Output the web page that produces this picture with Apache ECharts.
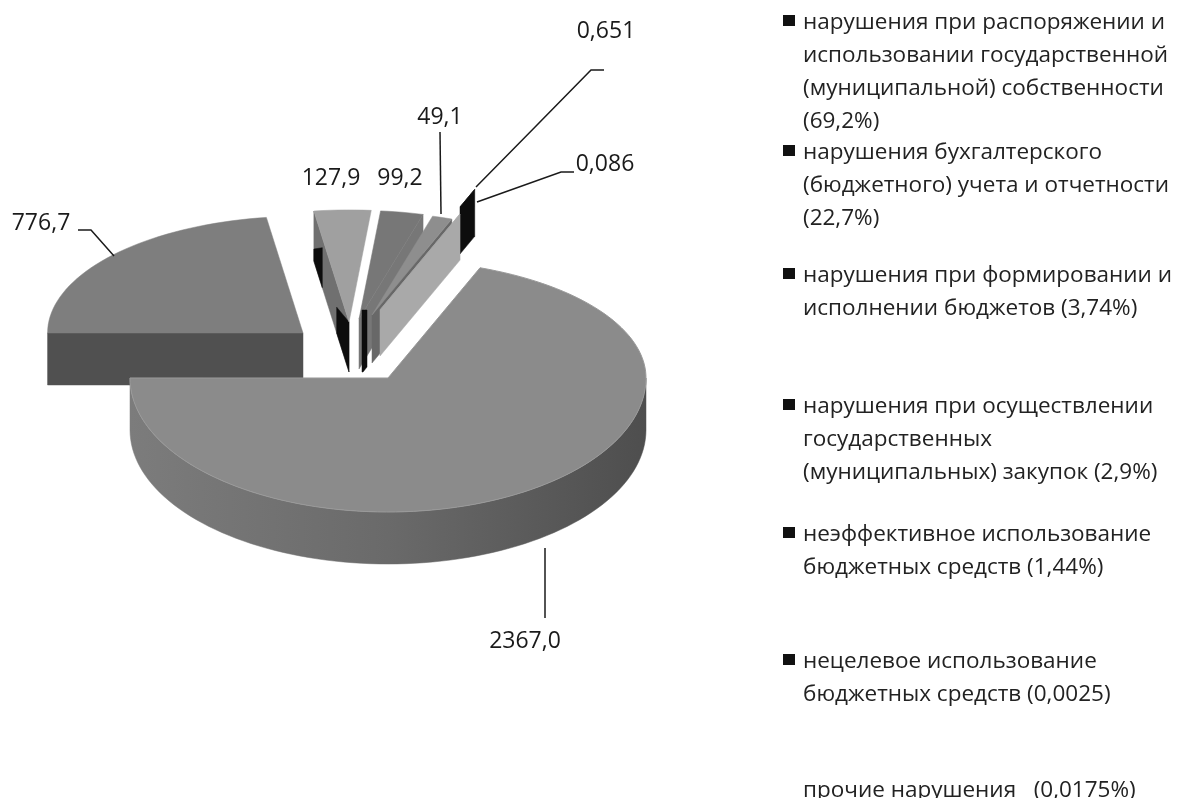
<!DOCTYPE html>
<html>
<head>
<meta charset="utf-8">
<title>Нарушения</title>
<style>
    html, body { margin: 0; padding: 0; background: #fff; }
    #main { width: 1180px; height: 798px; }
</style>
<script src="https://cdn.jsdelivr.net/npm/echarts@6/dist/echarts.min.js"></script>
</head>
<body>
<div id="main"></div>
<script>
// значения секторов, по часовой стрелке
var sliceValues = [2367.0, 776.7, 127.9, 99.2, 49.1, 0.651, 0.086];
var legendLabels = [
    'нарушения при распоряжении и\nиспользовании государственной\n(муниципальной) собственности\n(69,2%)',
    'нарушения бухгалтерского\n(бюджетного) учета и отчетности\n(22,7%)',
    'нарушения при формировании и\nисполнении бюджетов (3,74%)',
    'нарушения при осуществлении\nгосударственных\n(муниципальных) закупок (2,9%)',
    'неэффективное использование\nбюджетных средств (1,44%)',
    'нецелевое использование\nбюджетных средств (0,0025)',
    'прочие нарушения   (0,0175%)'
];

// раскладка
var START_ANGLE = 20.9;
var RX = 258, RY_TOP = 118, RY_BOTTOM = 134;
var FONT = '"Open Sans", sans-serif';
var sliceApex = [[388, 378], [303, 333], [349, 322], [359, 319], [372, 315], [380, 310], [460, 207]];
var sliceRadius = [1, 0.99, 0.95, 0.92, 0.87, 0.87, 0.16];
var sliceDepth = [52, 52, 50, 50, 48, 46, 47];
var topColors = ['#8b8b8b', '#7e7e7e', '#a0a0a0', '#777777', '#8e8e8e', '#a8a8a8', '#0d0d0d'];
var wallColors = ['#6c6c6c', '#505050', '#707070', '#777777', '#686868', '#a9a9a9', '#0d0d0d'];
var showEndWall = [false, false, false, true, true, true, true];
var drawOrder = [1, 2, 3, 4, 6, 5, 0];
var labelCenter = [[525, 641], [41, 223], [331, 178], [400, 178], [440, 117], [606, 31], [605, 164]];
var leaderPoints = [
    [[545, 548], [545, 618]],
    [[78, 230], [91, 230], [114, 256]],
    null,
    null,
    [[440, 132], [441, 214]],
    [[604, 70], [591, 70], [538, 124], [476, 187]],
    [[574, 172], [561, 172], [477, 202]]
];
var legendTop = [6, 136, 259, 390, 518, 645, 774];

// начало и конец каждого сектора в градусах
var sliceAngles = [];
(function () {
    var total = 0, i;
    for (i = 0; i < sliceValues.length; i++) {
        total += sliceValues[i];
    }
    var angle = START_ANGLE;
    for (i = 0; i < sliceValues.length; i++) {
        var next = angle + sliceValues[i] / total * 360;
        sliceAngles.push([angle, next]);
        angle = next;
    }
})();

function rimPoint(idx, deg, drop) {
    var a = deg * Math.PI / 180;
    var c = Math.cos(a);
    var k = sliceRadius[idx];
    return [
        sliceApex[idx][0] + Math.sin(a) * RX * k,
        sliceApex[idx][1] - c * (c > 0 ? RY_TOP : RY_BOTTOM) * k + (drop || 0)
    ];
}

function polygon(points, fill, stroke) {
    return {
        type: 'polygon',
        shape: { points: points },
        style: { fill: fill, stroke: stroke || fill, lineWidth: stroke ? 1 : 0.5 }
    };
}

function arcPoints(idx, from, to, drop) {
    var points = [];
    var steps = Math.max(2, Math.ceil(Math.abs(to - from) / 2));
    for (var i = 0; i <= steps; i++) {
        points.push(rimPoint(idx, from + (to - from) * i / steps, drop));
    }
    return points;
}

// боковая грань от обода к вершине, t вдоль грани, s вниз
function radialWall(idx, deg, fill, patch) {
    var apex = sliceApex[idx], depth = sliceDepth[idx];
    var rim = rimPoint(idx, deg);
    function at(t, s) {
        return [rim[0] + (apex[0] - rim[0]) * t, rim[1] + (apex[1] - rim[1]) * t + depth * s];
    }
    var points = patch || [[0, 0], [1, 0], [1, 1], [0, 1]];
    return polygon(points.map(function (p) { return at(p[0], p[1]); }), fill);
}

function renderSlice(params, api) {
    var idx = api.value(0);
    var from = sliceAngles[idx][0], to = sliceAngles[idx][1];
    var depth = sliceDepth[idx];
    var children = [];

    if (from % 360 > 180) {
        children.push(radialWall(idx, from, wallColors[idx]));
    }
    if (showEndWall[idx]) {
        children.push(radialWall(idx, to, wallColors[idx]));
    }
    // тёмные пятна на грани сектора 127,9
    if (idx === 2) {
        children.push(radialWall(idx, from, '#0d0d0d', [[0, 0.76], [0.24, 0.2], [0.24, 1], [0, 1]]));
        children.push(radialWall(idx, from, '#0d0d0d', [[0.65, 0.48], [0.65, 1], [1, 1], [1, 0]]));
    }
    // внешняя стенка, видна только спереди
    var wallFrom = Math.max(from, 90), wallTo = Math.min(to, 270);
    if (wallTo > wallFrom) {
        var upper = arcPoints(idx, wallFrom, wallTo, 0);
        var lower = arcPoints(idx, wallTo, wallFrom, depth);
        children.push(polygon(upper.concat(lower), new echarts.graphic.LinearGradient(0, 0, 1, 0, [
            { offset: 0, color: '#7c7c7c' },
            { offset: 0.5, color: '#6a6a6a' },
            { offset: 1, color: '#4e4e4e' }
        ])));
    }
    var top = [sliceApex[idx]].concat(arcPoints(idx, from, to, 0));
    children.push(polygon(top, topColors[idx], idx === 0 ? '#9a9a9a' : null));
    // чёрная полоса у вершины сектора 99,2
    if (idx === 3) {
        var ax = sliceApex[idx][0], ay = sliceApex[idx][1];
        children.push(polygon([[ax + 3, ay - 9], [ax + 8, ay - 9], [ax + 8, ay + 48], [ax + 4, ay + 53], [ax + 3, ay + 53]], '#0d0d0d'));
    }
    return { type: 'group', children: children };
}

function formatValue(v) {
    return (v < 1 ? String(v) : v.toFixed(1)).replace('.', ',');
}

function renderLabel(params, api) {
    var idx = api.value(0);
    var children = [{
        type: 'text',
        x: labelCenter[idx][0],
        y: labelCenter[idx][1],
        style: {
            text: formatValue(sliceValues[idx]),
            font: '23px ' + FONT,
            fill: '#1a1a1a',
            align: 'center',
            verticalAlign: 'middle'
        }
    }];
    if (leaderPoints[idx]) {
        children.push({
            type: 'polyline',
            shape: { points: leaderPoints[idx] },
            style: { fill: 'none', stroke: '#1a1a1a', lineWidth: 1.5 }
        });
    }
    return { type: 'group', children: children };
}

var legendGraphics = [];
for (var i = 0; i < legendLabels.length; i++) {
    // у последней строки маркера нет
    if (i < legendLabels.length - 1) {
        legendGraphics.push({
            type: 'rect',
            shape: { x: 783, y: legendTop[i] + 9, width: 12, height: 11 },
            style: { fill: '#111' }
        });
    }
    legendGraphics.push({
        type: 'text',
        x: 803,
        y: legendTop[i],
        style: {
            text: legendLabels[i],
            font: '22.5px ' + FONT,
            lineHeight: 33,
            fill: '#222',
            align: 'left',
            verticalAlign: 'top'
        }
    });
}

var myechart = echarts.init(document.getElementById('main'));
myechart.setOption({
    animation: false,
    backgroundColor: '#fff',
    graphic: legendGraphics,
    series: [
        {
            type: 'custom',
            coordinateSystem: 'none',
            renderItem: renderSlice,
            data: drawOrder.map(function (idx) { return [idx, sliceValues[idx]]; })
        },
        {
            type: 'custom',
            coordinateSystem: 'none',
            z: 5,
            renderItem: renderLabel,
            data: sliceValues.map(function (v, idx) { return [idx, v]; })
        }
    ]
});
</script>
</body>
</html>
